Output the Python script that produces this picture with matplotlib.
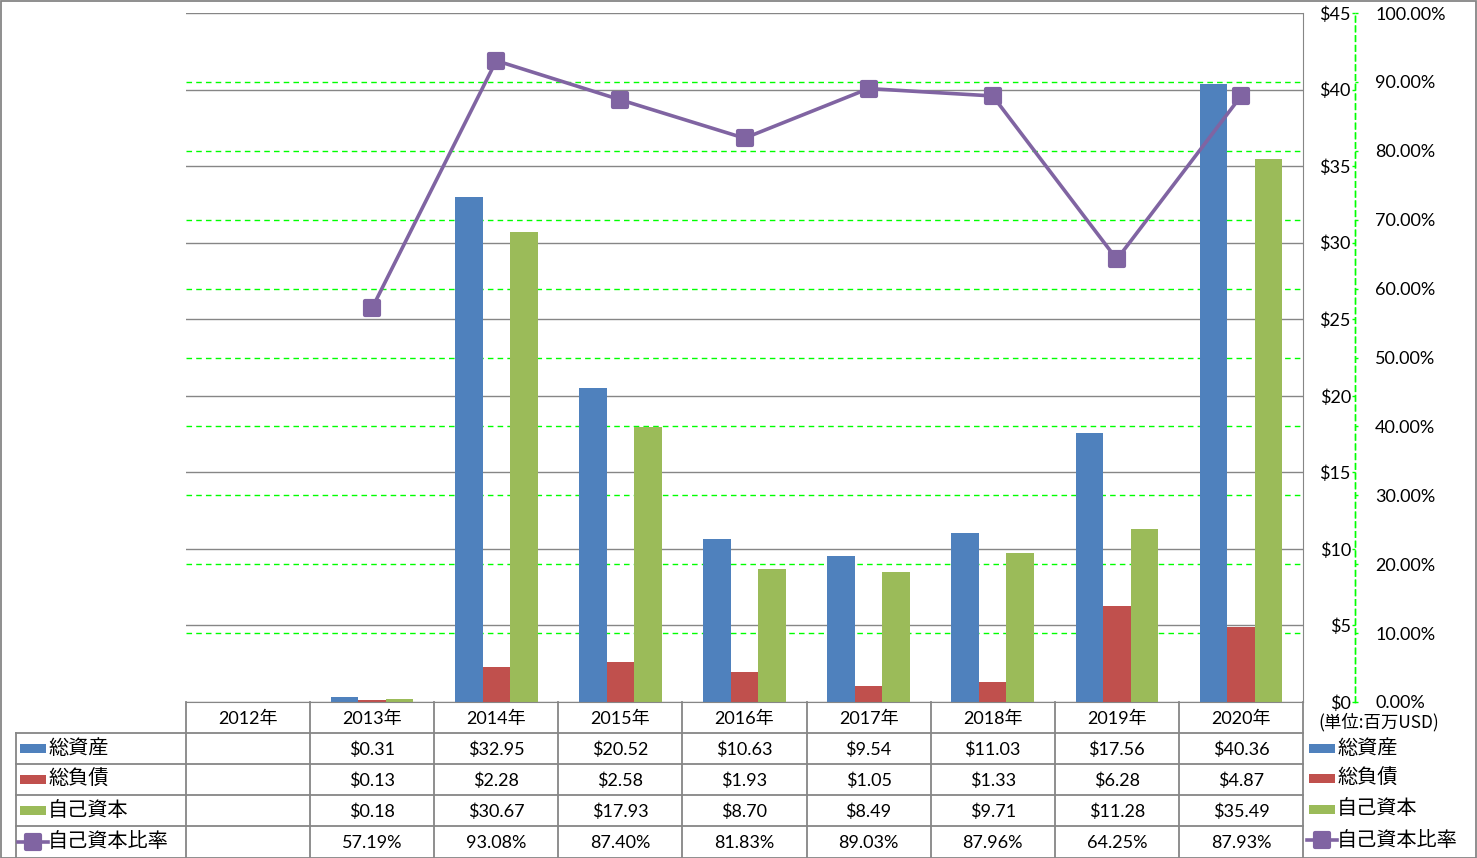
import numpy as np
import matplotlib
matplotlib.use('Agg')
import matplotlib.pyplot as plt
from matplotlib.markers import MarkerStyle
from matplotlib.transforms import blended_transform_factory as btf
from matplotlib.patches import Rectangle
from matplotlib.lines import Line2D
from matplotlib.ticker import FuncFormatter, MultipleLocator

# ---------------- data ----------------
years = ['2012年', '2013年', '2014年', '2015年', '2016年', '2017年', '2018年', '2019年', '2020年']
total_assets = [None, 0.31, 32.95, 20.52, 10.63, 9.54, 11.03, 17.56, 40.36]
total_liabilities = [None, 0.13, 2.28, 2.58, 1.93, 1.05, 1.33, 6.28, 4.87]
equity = [None, 0.18, 30.67, 17.93, 8.70, 8.49, 9.71, 11.28, 35.49]
equity_ratio = [None, 57.19, 93.08, 87.40, 81.83, 89.03, 87.96, 64.25, 87.93]
series_names = ['総資産', '総負債', '自己資本', '自己資本比率']
unit_label = '(単位:百万USD)'

# ---------------- style ----------------
C_BLUE, C_RED, C_GREEN, C_PURPLE = '#4F81BD', '#C0504D', '#9BBB59', '#8064A2'
GRAY = '#868686'
LIME = '#00FF00'
NUMFONT = ['Lato', 'Noto Sans CJK JP']
JPFONT = ['Noto Sans CJK JP', 'DejaVu Sans']

W, H = 1477, 858
fig = plt.figure(figsize=(W / 100, H / 100), dpi=100)


def fx(px):
    return px / W


def fy(py):
    return 1 - py / H


def arr(v):
    return np.array([np.nan if x is None else x for x in v], dtype=float)


ax = fig.add_axes([fx(186), fy(702), fx(1303) - fx(186), fy(13) - fy(702)])
ax2 = ax.twinx()

x = np.arange(len(years))
bw = 0.222
ax.bar(x - bw, arr(total_assets), bw, color=C_BLUE, zorder=2)
ax.bar(x, arr(total_liabilities), bw, color=C_RED, zorder=2)
ax.bar(x + bw, arr(equity), bw, color=C_GREEN, zorder=2)

ax.set_xlim(-0.5, len(years) - 0.5)
ax.set_ylim(0, 45)
ax.yaxis.set_major_locator(MultipleLocator(5))
ax.yaxis.set_major_formatter(FuncFormatter(lambda v, p: f'${v:.0f}'))
ax.set_xticks([])
ax.yaxis.grid(True, color=GRAY, lw=1, ls='-', zorder=0.5)
ax.set_axisbelow(True)

axis_pos = (1355 - 186) / (1303 - 186)
ax.spines['top'].set_visible(False)
ax.spines['bottom'].set_color(GRAY)
ax.spines['right'].set_color(GRAY)
ax.spines['left'].set_position(('axes', axis_pos))
ax.spines['left'].set_color(LIME)
ax.spines['left'].set_linestyle((0, (4, 3)))
ax.spines['left'].set_linewidth(1)
ax.tick_params(axis='y', length=2.5, width=1, color=LIME, pad=0.5,
               labelsize=13, direction='out')
for t in ax.get_yticklabels():
    t.set_family(NUMFONT)

ax2.set_ylim(0, 100)
ax2.yaxis.set_major_locator(MultipleLocator(10))
ax2.yaxis.set_major_formatter(FuncFormatter(lambda v, p: f'{v:.2f}%'))
for s in ['top', 'bottom', 'left']:
    ax2.spines[s].set_visible(False)
ax2.spines['right'].set_position(('axes', axis_pos))
ax2.spines['right'].set_color(LIME)
ax2.spines['right'].set_linestyle((0, (4, 3)))
ax2.spines['right'].set_linewidth(1)
ax2.tick_params(axis='y', length=2.5, width=1, color=LIME, pad=12,
                labelsize=13, direction='out')
for t in ax2.get_yticklabels():
    t.set_family(NUMFONT)

# percent gridlines (green dashed), below bars
gtr = btf(ax.transAxes, ax2.transData)
for p in np.arange(10, 100, 10):
    ax.plot([0, 1], [p, p], transform=gtr, color=LIME, lw=1,
            ls=(0, (4, 3)), zorder=0.6)

mk = MarkerStyle('s', joinstyle='round')
ax2.plot(x, arr(equity_ratio), color=C_PURPLE, lw=2.6, marker=mk, ms=10.5,
         mew=3, mfc=C_PURPLE, mec=C_PURPLE, zorder=5)

# ---------------- data table ----------------
tx = btf(ax.transData, fig.transFigure)
fig_t = fig.transFigure


def hline(x0, x1, y):
    fig.add_artist(Line2D([fx(x0), fx(x1)], [fy(y), fy(y)], color=GRAY, lw=1.3,
                          transform=fig_t))


for y in [733, 764, 795, 826]:
    hline(16, 1303, y)
fig.add_artist(Line2D([fx(16), fx(16)], [fy(733), fy(857)], color=GRAY, lw=1.3, transform=fig_t))
for k in range(len(years)):
    ax.add_artist(Line2D([k - 0.5, k - 0.5], [fy(702), fy(857)], color=GRAY, lw=1.3,
                         transform=tx, clip_on=False))
fig.add_artist(Line2D([fx(1303), fx(1303)], [fy(702), fy(857)], color=GRAY, lw=1.3, transform=fig_t))

row_y = [748.5, 779.5, 810.5, 841.5]
for i, yr in enumerate(years):
    ax.text(i, fy(718.5), yr, transform=tx, ha='center', va='center',
            fontsize=13, family=NUMFONT, clip_on=False)
rows = [
    [None if v is None else f'${v:.2f}' for v in total_assets],
    [None if v is None else f'${v:.2f}' for v in total_liabilities],
    [None if v is None else f'${v:.2f}' for v in equity],
    [None if v is None else f'{v:.2f}%' for v in equity_ratio],
]
for r, vals in enumerate(rows):
    for i, s in enumerate(vals):
        if s is None:
            continue
        ax.text(i, fy(row_y[r] + 1.5), s, transform=tx, ha='center', va='center',
                fontsize=13, family=NUMFONT, clip_on=False)


def legend_key(xk, yc, kind, color):
    if kind == 'bar':
        fig.add_artist(Rectangle((fx(xk), fy(yc + 4.5)), fx(26), 9 / H,
                                 facecolor=color, edgecolor='none', transform=fig_t))
    else:
        fig.add_artist(Line2D([fx(xk - 2), fx(xk + 28)], [fy(yc), fy(yc)], color=color,
                              lw=2.6, transform=fig_t))
        fig.add_artist(Line2D([fx(xk + 13)], [fy(yc)], color=color, marker=mk, ms=10,
                              mew=3, mfc=color, mec=color, transform=fig_t))


kinds = [('bar', C_BLUE), ('bar', C_RED), ('bar', C_GREEN), ('line', C_PURPLE)]
for r, (name, (kind, col)) in enumerate(zip(series_names, kinds)):
    legend_key(20, row_y[r], kind, col)
    fig.text(fx(48), fy(row_y[r]), name, ha='left', va='center', fontsize=14.5, family=JPFONT)

leg_y = [748, 778.5, 809, 840]
for r, (name, (kind, col)) in enumerate(zip(series_names, kinds)):
    legend_key(1309, leg_y[r], kind, col)
    fig.text(fx(1337), fy(leg_y[r]), name, ha='left', va='center', fontsize=14.5, family=JPFONT)

fig.text(fx(1379), fy(722), unit_label, ha='center', va='center', fontsize=12.5, family=JPFONT)

fig.add_artist(Rectangle((0.5 / W, 0.5 / H), 1 - 1.5 / W, 1 - 1.5 / H, fill=False,
                         edgecolor=GRAY, lw=1.3, transform=fig_t))

fig.savefig('out.png', dpi=100)
